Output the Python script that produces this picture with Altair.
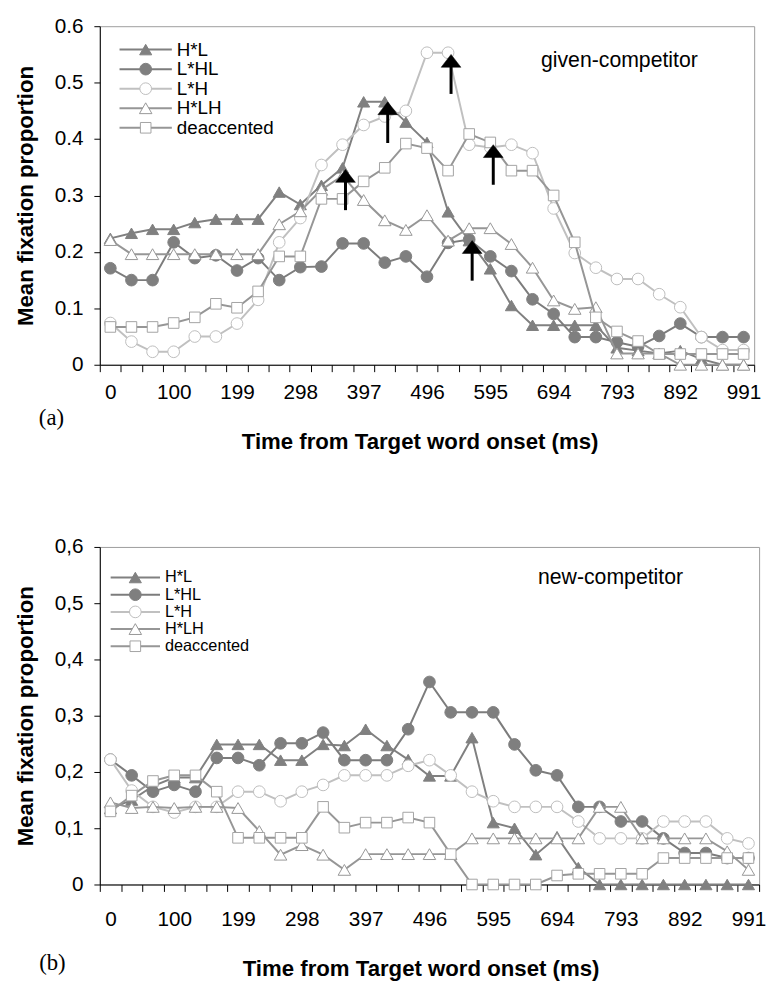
import altair as alt
import pandas as pd

# ---------------- data ----------------
times = [0, 33, 66, 100, 132, 165, 199, 231, 264, 298, 330, 363, 397, 429, 462, 496,
         528, 561, 595, 627, 660, 694, 726, 759, 793, 825, 858, 892, 924, 957, 991]
series = ["H*L", "L*HL", "L*H", "H*LH", "deaccented"]

# panel (a) given-competitor
given_HL = [0.224, 0.233, 0.240, 0.240, 0.252, 0.258, 0.258, 0.258, 0.306, 0.284, 0.318,
            0.349, 0.466, 0.466, 0.430, 0.394, 0.271, 0.220, 0.170, 0.105, 0.070, 0.070,
            0.070, 0.070, 0.030, 0.025, 0.020, 0.025, 0.010, 0.000, 0.000]
given_LHL = [0.171, 0.150, 0.150, 0.217, 0.189, 0.194, 0.167, 0.189, 0.150, 0.173, 0.174,
             0.215, 0.215, 0.181, 0.192, 0.156, 0.216, 0.222, 0.192, 0.166, 0.116, 0.090,
             0.049, 0.049, 0.040, 0.032, 0.051, 0.073, 0.049, 0.049, 0.049]
given_LH = [0.074, 0.041, 0.023, 0.023, 0.050, 0.050, 0.073, 0.115, 0.217, 0.260, 0.354,
            0.390, 0.425, 0.440, 0.450, 0.553, 0.553, 0.390, 0.385, 0.390, 0.375, 0.277,
            0.198, 0.172, 0.152, 0.152, 0.125, 0.102, 0.049, 0.026, 0.026]
given_HLH = [0.221, 0.196, 0.196, 0.196, 0.196, 0.196, 0.196, 0.196, 0.249, 0.272, 0.310,
             0.335, 0.292, 0.256, 0.239, 0.265, 0.220, 0.242, 0.242, 0.214, 0.172, 0.114,
             0.099, 0.102, 0.020, 0.020, 0.020, 0.000, 0.000, 0.000, 0.000]
given_deacc = [0.067, 0.067, 0.067, 0.074, 0.084, 0.108, 0.101, 0.130, 0.192, 0.192, 0.294,
               0.294, 0.325, 0.349, 0.392, 0.384, 0.344, 0.409, 0.394, 0.344, 0.344, 0.300,
               0.217, 0.084, 0.059, 0.042, 0.019, 0.019, 0.019, 0.019, 0.019]

# panel (b) new-competitor
new_HL = [0.135, 0.150, 0.175, 0.190, 0.190, 0.249, 0.249, 0.249, 0.221, 0.221, 0.249,
          0.247, 0.276, 0.247, 0.222, 0.193, 0.193, 0.261, 0.110, 0.100, 0.053, 0.085,
          0.030, 0.000, 0.000, 0.000, 0.000, 0.000, 0.000, 0.000, 0.000]
new_LHL = [0.222, 0.194, 0.165, 0.177, 0.165, 0.225, 0.225, 0.212, 0.251, 0.251, 0.270,
           0.221, 0.221, 0.221, 0.276, 0.360, 0.306, 0.306, 0.306, 0.249, 0.203, 0.194,
           0.138, 0.138, 0.112, 0.112, 0.082, 0.056, 0.056, 0.047, 0.047]
new_LH = [0.222, 0.167, 0.138, 0.128, 0.138, 0.138, 0.165, 0.165, 0.148, 0.165, 0.177,
          0.194, 0.194, 0.194, 0.211, 0.221, 0.194, 0.165, 0.148, 0.138, 0.138, 0.138,
          0.112, 0.082, 0.082, 0.082, 0.112, 0.112, 0.112, 0.082, 0.073]
new_HLH = [0.146, 0.136, 0.138, 0.136, 0.138, 0.138, 0.136, 0.095, 0.053, 0.070, 0.053,
           0.026, 0.054, 0.054, 0.054, 0.054, 0.054, 0.082, 0.082, 0.082, 0.082, 0.082,
           0.082, 0.138, 0.138, 0.082, 0.082, 0.082, 0.082, 0.059, 0.026]
new_deacc = [0.130, 0.158, 0.184, 0.194, 0.194, 0.165, 0.083, 0.083, 0.083, 0.083, 0.138,
             0.101, 0.110, 0.110, 0.119, 0.110, 0.054, 0.000, 0.000, 0.000, 0.000, 0.016,
             0.019, 0.019, 0.019, 0.019, 0.047, 0.047, 0.047, 0.047, 0.047]

# arrows in panel (a): time index, shaft base, tip
arrow_index = [11, 13, 16, 18, 17]
arrow_base = [0.274, 0.393, 0.480, 0.319, 0.149]
arrow_tip = [0.346, 0.466, 0.550, 0.390, 0.220]

y_ticks = [0, 0.1, 0.2, 0.3, 0.4, 0.5, 0.6]
shown_times = times[::3]

# ---------------- styles ----------------
SANS = "Liberation Sans"
SERIF = "Liberation Serif"
styles = {
    "H*L": dict(line="#808080", shape="triangle-up", size=150, fill="#808080", stroke="#808080"),
    "L*HL": dict(line="#7c7c7c", shape="circle", size=140, fill="#7f7f7f", stroke="#7f7f7f"),
    "L*H": dict(line="#c0c0c0", shape="circle", size=140, fill="white", stroke="#bdbdbd"),
    "H*LH": dict(line="#969696", shape="triangle-up", size=160, fill="white", stroke="#969696"),
    "deaccented": dict(line="#969696", shape="square", size=115, fill="white", stroke="#a3a3a3"),
}


def make_panel(lists, cfg):
    xscale = alt.Scale(type="band", domain=times, paddingInner=0, paddingOuter=0)
    xaxis = alt.Axis(
        title="Time from Target word onset (ms)", tickBand="extent",
        labelExpr=f"indexof({shown_times}, datum.value) >= 0 ? datum.label : ''",
        labelAngle=0, labelFont=SANS, labelFontSize=21, labelColor="black",
        labelPadding=cfg["xlabpad"], tickSize=7, tickColor="black", tickWidth=1,
        domainColor="black", domainWidth=1, grid=False,
        titleFont=SANS, titleFontSize=22.5, titleFontWeight="bold", titleColor="black",
        titleX=cfg["titlex"], titleY=cfg["titley"], titleBaseline="middle",
    )
    yscale = alt.Scale(domain=[0, 0.6], nice=False, zero=True)
    yaxis_kw = dict(
        title="Mean fixation proportion", values=y_ticks, grid=False,
        labelFont=SANS, labelFontSize=21, labelColor="black", labelPadding=11,
        tickSize=6, tickColor="black", domainColor="black", domainWidth=1,
        titleFont=SANS, titleFontSize=22.5, titleFontWeight="bold", titleColor="black",
        titleX=-75.5, titleY=cfg["h"] / 2, titleBaseline="middle",
    )
    if cfg["comma"]:
        yaxis_kw["labelExpr"] = ("datum.value == 0 ? '0' : "
                                 "replace(format(datum.value, '.1f'), '.', ',')")
    else:
        yaxis_kw["format"] = ".1~f"
    yaxis = alt.Axis(**yaxis_kw)

    X = alt.X("t:O", scale=xscale, axis=xaxis)
    layers = []
    for name, vals in zip(series, lists):
        st = styles[name]
        df = pd.DataFrame({"t": times, "v": vals})
        Y = alt.Y("v:Q", scale=yscale, axis=yaxis)
        layers.append(alt.Chart(df).mark_line(color=st["line"], strokeWidth=2).encode(x=X, y=Y))
        layers.append(alt.Chart(df).mark_point(
            shape=st["shape"], size=st["size"], filled=True, fill=st["fill"],
            stroke=st["stroke"], strokeWidth=1, opacity=1).encode(x=X, y=Y))

    if cfg.get("arrows"):
        adf = pd.DataFrame({
            "t": [times[i] for i in arrow_index],
            "base": arrow_base,
            "tip": arrow_tip,
        })
        layers.append(alt.Chart(adf).mark_rule(color="black", strokeWidth=3, xOffset=3,
                                               y2Offset=10).encode(
            x=X, y=alt.Y("base:Q", scale=yscale, axis=yaxis), y2="tip:Q"))
        layers.append(alt.Chart(adf).mark_point(
            shape="M-1,0.65L1,0.65L0,-0.65Z", size=400, filled=True, fill="black",
            stroke="black", strokeWidth=0.5, opacity=1, xOffset=3, yOffset=6.5).encode(
            x=X, y=alt.Y("tip:Q", scale=yscale, axis=yaxis)))

    # legend (inside plot, top-left)
    dummy = pd.DataFrame({"d": [0]})
    lg = cfg["legend"]
    for k, name in enumerate(series):
        st = styles[name]
        ly = lg["y0"] + k * lg["dy"]
        layers.append(alt.Chart(dummy).mark_rule(color=st["line"], strokeWidth=2).encode(
            x=alt.value(lg["x1"]), x2=alt.value(lg["x2"]), y=alt.value(ly)))
        layers.append(alt.Chart(dummy).mark_point(
            shape=st["shape"], size=st["size"], filled=True, fill=st["fill"],
            stroke=st["stroke"], strokeWidth=1, opacity=1).encode(
            x=alt.value(lg["xm"]), y=alt.value(ly)))
        layers.append(alt.Chart(dummy).mark_text(
            align="left", baseline="middle", font=SANS, fontSize=lg["fs"], color="black").encode(
            x=alt.value(lg["xt"]), y=alt.value(ly), text=alt.value(name)))

    # annotation and panel tag
    layers.append(alt.Chart(dummy).mark_text(
        align="left", baseline="middle", font=SANS, fontSize=21.5, color="black").encode(
        x=alt.value(cfg["ann_x"]), y=alt.value(cfg["ann_y"]), text=alt.value(cfg["ann"])))
    layers.append(alt.Chart(dummy).mark_text(
        align="center", baseline="middle", font=SERIF, fontSize=23, color="black").encode(
        x=alt.value(cfg["tag_x"]), y=alt.value(cfg["tag_y"]), text=alt.value(cfg["tag"])))

    if cfg.get("anchor"):
        layers.append(alt.Chart(dummy).mark_rule(opacity=0).encode(
            x=alt.value(-92), x2=alt.value(-91), y=alt.value(-10), y2=alt.value(-9)))

    return alt.layer(*layers).properties(width=cfg["w"], height=cfg["h"])


cfg_a = dict(w=663, h=343, xlabpad=10, titlex=324, titley=78, comma=False,
             legend=dict(x1=20, x2=73, xm=46.5, xt=78, y0=23.7, dy=19.8, fs=19),
             ann="given-competitor", ann_x=447, ann_y=35,
             tag="(a)", tag_x=-49, tag_y=397, arrows=True, anchor=True)
cfg_b = dict(w=668, h=342, xlabpad=17.5, titlex=325, titley=85, comma=True,
             legend=dict(x1=11, x2=61, xm=36, xt=66, y0=31, dy=17.4, fs=16.5),
             ann="new-competitor", ann_x=444, ann_y=32,
             tag="(b)", tag_x=-48, tag_y=422, arrows=False, anchor=False)

panel_a = make_panel([given_HL, given_LHL, given_LH, given_HLH, given_deacc], cfg_a)
panel_b = make_panel([new_HL, new_LHL, new_LH, new_HLH, new_deacc], cfg_b)

chart = alt.vconcat(panel_a, panel_b, spacing=184.6, bounds="flush").configure_view(
    stroke="#9c9c9c", strokeWidth=1
).properties(padding={"left": 0, "top": 0, "right": 0, "bottom": 0}, background="white")

chart.save("out.html", embed_options={"renderer": "svg", "actions": False})
